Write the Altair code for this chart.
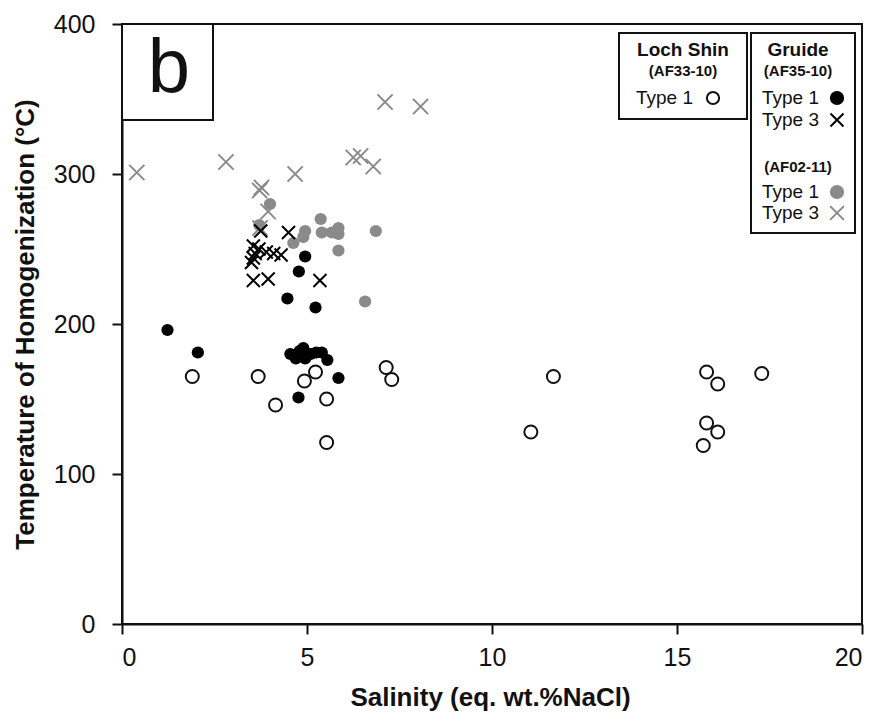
import altair as alt
import pandas as pd

# ---- data ----
loch_t1_x = [1.9, 3.68, 4.15, 4.93, 5.23, 5.53, 5.53, 7.14, 7.29, 11.05, 11.66, 15.71, 15.8, 15.8, 16.1, 16.1, 17.29]
loch_t1_y = [165, 165, 146, 162, 168, 150, 121, 171, 163, 128, 165, 119, 134, 168, 128, 160, 167]

af35_t1_x = [1.23, 2.05, 4.47, 4.78, 4.95, 5.23, 4.55, 4.7, 4.8, 4.9, 4.95, 5.1, 5.25, 5.4, 5.55, 5.85, 4.77]
af35_t1_y = [196, 181, 217, 235, 245, 211, 180, 177, 182, 184, 177, 180, 181, 181, 176, 164, 151]

af35_t3_x = [3.5, 3.55, 3.6, 3.55, 3.7, 3.9, 4.1, 4.3, 3.55, 3.95, 5.35, 3.75, 4.5]
af35_t3_y = [241, 252, 247, 244, 250, 248, 247, 246, 229, 230, 229, 262, 261]

af02_t1_x = [4.0, 5.37, 4.95, 4.9, 5.4, 5.67, 5.85, 5.85, 6.86, 5.85, 4.63, 3.71, 6.57]
af02_t1_y = [280, 270, 262, 258, 261, 261, 264, 260, 262, 249, 254, 266, 215]

af02_t3_x = [0.40, 2.81, 4.68, 7.11, 8.07, 6.25, 6.45, 6.79, 3.72, 3.77, 3.95, 3.73]
af02_t3_y = [301, 308, 300, 348, 345, 311, 312, 305, 289, 291, 275, 264]

x_ticks = [0, 5, 10, 15, 20]
y_ticks = [0, 100, 200, 300, 400]

FONT = "Liberation Sans"
GRAY = "#8a8a8a"
XPATH = "M-1,-1L1,1M-1,1L1,-1"

W, H = 740, 600

xs = alt.Scale(domain=[0, 20], nice=False, zero=False)
ys = alt.Scale(domain=[0, 400], nice=False, zero=False)

xaxis = alt.Axis(values=x_ticks, grid=False, title="Salinity (eq. wt.%NaCl)",
                 titleX=W / 2 - 2, titleY=73, titleBaseline="middle", titleAnchor="middle")
yaxis = alt.Axis(values=y_ticks, grid=False, title="Temperature of Homogenization (°C)",
                 titleX=-97, titleY=H / 2, titleBaseline="middle", titleAnchor="middle")


def df(x, y):
    return pd.DataFrame({"s": x, "t": y})


def pts(x, y, **mk):
    return alt.Chart(df(x, y)).mark_point(**mk).encode(
        x=alt.X("s:Q", scale=xs, axis=xaxis),
        y=alt.Y("t:Q", scale=ys, axis=yaxis),
    )


layers = [
    pts(af02_t3_x, af02_t3_y, shape=XPATH, filled=False, stroke=GRAY, strokeWidth=2, size=230, opacity=1),
    pts(af02_t1_x, af02_t1_y, shape="circle", filled=True, fill=GRAY, stroke=GRAY, strokeWidth=0, size=150, opacity=1),
    pts(af35_t3_x, af35_t3_y, shape=XPATH, filled=False, stroke="black", strokeWidth=2, size=170, opacity=1),
    pts(af35_t1_x, af35_t1_y, shape="circle", filled=True, fill="black", stroke="black", strokeWidth=0, size=150, opacity=1),
    pts(loch_t1_x, loch_t1_y, shape="circle", filled=True, fill="white", stroke="#111", strokeWidth=2, size=170, opacity=1),
]

one = alt.Data(values=[{"a": 1}])


def box(x1, x2, y1, y2):
    return alt.Chart(one).mark_rect(fill="white", stroke="#111", strokeWidth=2).encode(
        x=alt.value(x1), x2=alt.value(x2), y=alt.value(y1), y2=alt.value(y2))


def txt(s, x, y, size, bold=False, align="center"):
    return alt.Chart(one).mark_text(text=s, font=FONT, fontSize=size,
                                    fontWeight="bold" if bold else "normal",
                                    align=align, baseline="middle", color="#111").encode(
        x=alt.value(x), y=alt.value(y))


def sym(x, y, shape, fill, stroke, filled=True, size=150):
    return alt.Chart(one).mark_point(shape=shape, filled=filled, fill=fill, stroke=stroke,
                                     strokeWidth=2, size=size, opacity=1).encode(
        x=alt.value(x), y=alt.value(y))


deco = [
    box(0, 91, 0, 96),
    txt("b", 47, 45, 76),
    box(497, 625, 9, 95),
    txt("Loch Shin", 561, 26, 19, bold=True),
    txt("(AF33-10)", 561, 47, 15, bold=True),
    txt("Type 1", 514, 74, 19, align="left"),
    sym(591, 74, "circle", "white", "#111", filled=True, size=150),
    box(629, 733, 9, 209),
    txt("Gruide", 676, 26, 19, bold=True),
    txt("(AF35-10)", 676, 47, 15, bold=True),
    txt("Type 1", 640, 74, 19, align="left"),
    sym(715, 74, "circle", "black", "black"),
    txt("Type 3", 640, 96, 19, align="left"),
    sym(715, 96, XPATH, "none", "black", filled=False, size=170),
    txt("(AF02-11)", 676, 143, 15, bold=True),
    txt("Type 1", 640, 168, 19, align="left"),
    sym(715, 168, "circle", GRAY, GRAY),
    txt("Type 3", 640, 189, 19, align="left"),
    sym(715, 189, XPATH, "none", GRAY, filled=False, size=190),
]

chart = alt.layer(*layers, *deco).properties(
    width=W, height=H,
    autosize=alt.AutoSizeParams(type="none"),
    padding={"left": 114, "top": 16, "right": 10, "bottom": 90},
).configure_view(
    stroke="#111", strokeWidth=2
).configure_axis(
    domainColor="#111", domainWidth=2, tickColor="#111", tickWidth=2, tickSize=10,
    labelFont=FONT, labelFontSize=25, labelColor="#111",
    titleFont=FONT, titleFontSize=26, titleFontWeight="bold", titleColor="#111",
).configure_axisY(labelPadding=17).configure_axisX(labelPadding=11)

chart.save("out.html", embed_options={"renderer": "svg", "actions": False})
